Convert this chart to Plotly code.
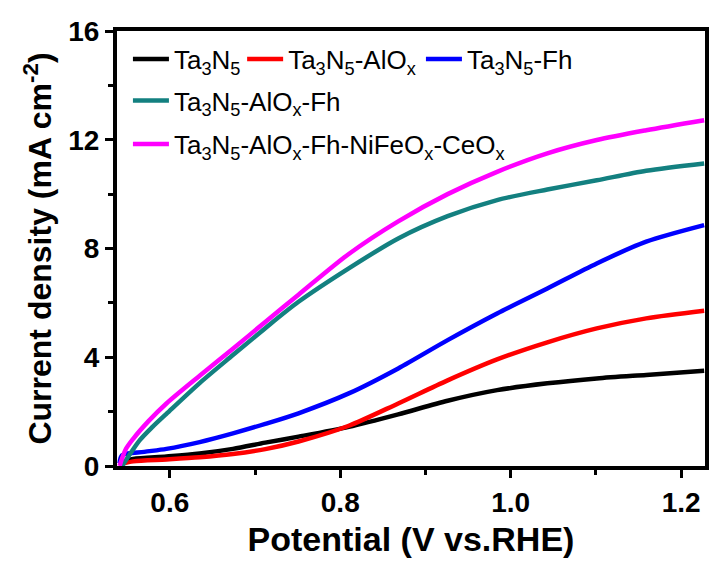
import plotly.graph_objects as go

# ---- data ----
names = [
    "Ta<sub>3</sub>N<sub>5</sub>",
    "Ta<sub>3</sub>N<sub>5</sub>-AlO<sub>x</sub>",
    "Ta<sub>3</sub>N<sub>5</sub>-Fh",
    "Ta<sub>3</sub>N<sub>5</sub>-AlO<sub>x</sub>-Fh",
    "Ta<sub>3</sub>N<sub>5</sub>-AlO<sub>x</sub>-Fh-NiFeO<sub>x</sub>-CeO<sub>x</sub>",
]
colors = ["#000000", "#ff0000", "#0000ff", "#138080", "#ff00ff"]

black_V = [0.541, 0.557, 0.596, 0.635, 0.674, 0.712, 0.751, 0.810, 0.868, 0.926, 0.984, 1.043, 1.101, 1.159, 1.227]
black_J = [0.12, 0.26, 0.35, 0.46, 0.63, 0.86, 1.08, 1.44, 1.90, 2.40, 2.79, 3.04, 3.22, 3.35, 3.50]

red_V = [0.541, 0.557, 0.596, 0.635, 0.674, 0.712, 0.751, 0.810, 0.868, 0.926, 0.984, 1.043, 1.101, 1.159, 1.227]
red_J = [0.05, 0.17, 0.24, 0.32, 0.44, 0.62, 0.90, 1.48, 2.30, 3.15, 3.92, 4.55, 5.06, 5.43, 5.71]

blue_V = [0.541, 0.544, 0.570, 0.596, 0.635, 0.674, 0.712, 0.751, 0.810, 0.868, 0.926, 0.984, 1.043, 1.101, 1.159, 1.227]
blue_J = [0.1, 0.4, 0.52, 0.63, 0.88, 1.2, 1.55, 1.94, 2.67, 3.59, 4.63, 5.61, 6.53, 7.45, 8.25, 8.86]

teal_V = [0.544, 0.565, 0.580, 0.596, 0.635, 0.674, 0.712, 0.751, 0.810, 0.868, 0.926, 0.984, 1.043, 1.101, 1.159, 1.227]
teal_J = [0.0, 0.96, 1.45, 1.92, 3.05, 4.08, 5.07, 6.04, 7.27, 8.37, 9.19, 9.78, 10.17, 10.51, 10.86, 11.13]

mag_V = [0.541, 0.548, 0.557, 0.575, 0.596, 0.635, 0.674, 0.712, 0.751, 0.810, 0.868, 0.926, 0.984, 1.043, 1.101, 1.159, 1.227]
mag_J = [0.0, 0.6, 1.0, 1.65, 2.3, 3.32, 4.31, 5.3, 6.3, 7.8, 9.0, 10.0, 10.82, 11.5, 11.99, 12.35, 12.72]

xs = [black_V, red_V, blue_V, teal_V, mag_V]
ys = [black_J, red_J, blue_J, teal_J, mag_J]
legend_ids = ["legend", "legend2", "legend3", "legend4", "legend5"]

x_ticks = [0.6, 0.8, 1.0, 1.2]
y_ticks = [0, 4, 8, 12, 16]

FONT = "Liberation Sans"

fig = go.Figure()
for n, c, x, y, lg in zip(names, colors, xs, ys, legend_ids):
    fig.add_trace(go.Scatter(x=x, y=y, mode="lines", name=n, showlegend=True,
                             line=dict(color=c, width=4.5, shape="spline", smoothing=0.8),
                             legend=lg))

def leg(xpos, ypos):
    return dict(bgcolor="rgba(0,0,0,0)", borderwidth=0, visible=True,
                font=dict(family=FONT, size=26, color="black"),
                xanchor="left", yanchor="middle", orientation="v",
                itemwidth=36, x=xpos, y=ypos)

# legend anchor positions in paper fractions of the plot area
row_y = [0.9356, 0.8398, 0.7402]
col_x = [0.0186, 0.2128, 0.5169]

fig.update_layout(
    width=714, height=561,
    showlegend=True,
    margin=dict(l=117, r=5, t=31, b=95),
    paper_bgcolor="white", plot_bgcolor="white",
    legend=leg(col_x[0], row_y[0]),
    legend2=leg(col_x[1], row_y[0]),
    legend3=leg(col_x[2], row_y[0]),
    legend4=leg(col_x[0], row_y[1]),
    legend5=leg(col_x[0], row_y[2]),
    xaxis=dict(
        range=[0.538, 1.228], tickvals=x_ticks, ticktext=[f"{v:.1f}" for v in x_ticks],
        ticks="outside", ticklen=8, tickwidth=3, tickcolor="black",
        minor=dict(dtick=0.1, tick0=0.5, ticks="outside", ticklen=5, tickwidth=3, tickcolor="black"),
        showline=True, linewidth=4, linecolor="black", mirror=True,
        showgrid=False, zeroline=False,
        tickfont=dict(family=FONT, size=28, color="black", weight="bold"),
        title=dict(text="Potential (V vs.RHE)", standoff=12,
                   font=dict(family=FONT, size=34, color="black", weight="bold")),
    ),
    yaxis=dict(
        range=[0, 16], tickvals=y_ticks,
        ticks="outside", ticklen=8, tickwidth=3, tickcolor="black",
        minor=dict(dtick=2, tick0=0, ticks="outside", ticklen=5, tickwidth=3, tickcolor="black"),
        showline=True, linewidth=4, linecolor="black", mirror=True,
        showgrid=False, zeroline=False,
        tickfont=dict(family=FONT, size=28, color="black", weight="bold"),
        title=dict(text="Current density (mA cm<sup>-2</sup>)", standoff=8,
                   font=dict(family=FONT, size=32, color="black", weight="bold")),
    ),
)

fig.write_html("out.html")
